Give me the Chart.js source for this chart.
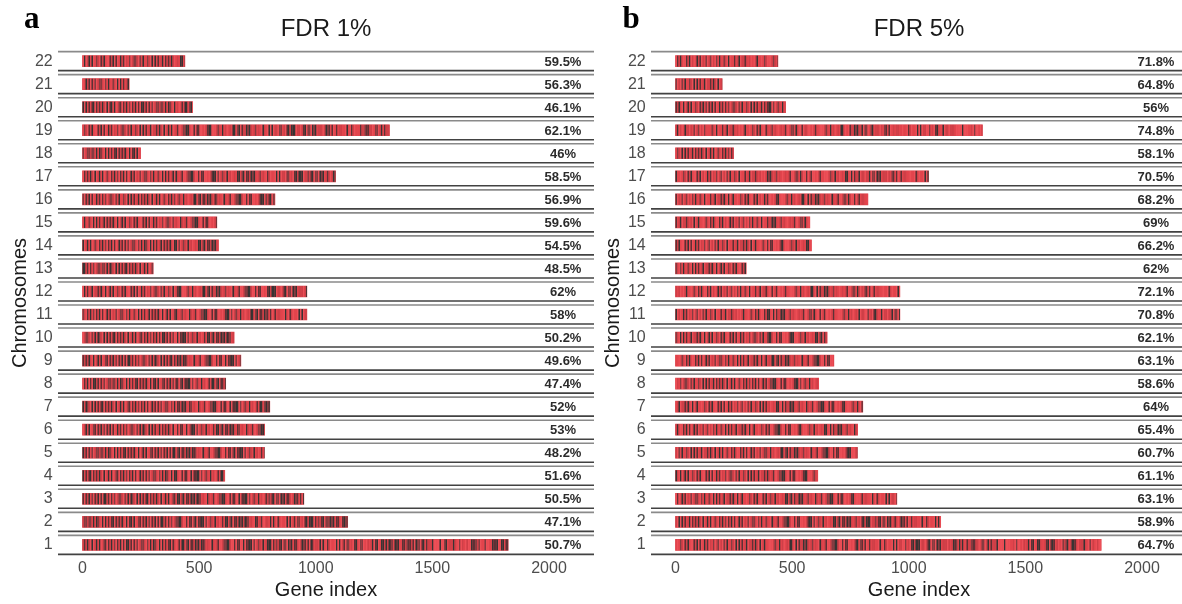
<!DOCTYPE html>
<html>
<head>
<meta charset="utf-8">
<script src="https://cdn.jsdelivr.net/npm/chart.js@4.4.1/dist/chart.umd.min.js"></script>
<style>
  html, body { margin: 0; padding: 0; background: #ffffff; overflow: hidden; }
  #wrap { position: relative; width: 1182px; height: 604px; overflow: hidden; }
  canvas { position: absolute; top: 0; }
  #panelA { left: 0; }
  #panelB { left: 593px; }
</style>
</head>
<body>
<div id="wrap">
  <canvas id="panelA" width="600" height="604"></canvas>
  <canvas id="panelB" width="600" height="604"></canvas>
</div>
<script>
// Chromosomes 1..22, genes tested per chromosome
const CHROMOSOMES = ['1','2','3','4','5','6','7','8','9','10','11','12','13','14','15','16','17','18','19','20','21','22'];
const GENE_COUNTS = [1825, 1137, 949, 610, 780, 781, 803, 614, 679, 650, 962, 962, 303, 583, 576, 825, 1085, 249, 1316, 472, 200, 439];

// Share of genes (in %) per chromosome at each FDR threshold
const PCT_FDR1 = [50.7, 47.1, 50.5, 51.6, 48.2, 53, 52, 47.4, 49.6, 50.2, 58, 62, 48.5, 54.5, 59.6, 56.9, 58.5, 46, 62.1, 46.1, 56.3, 59.5];
const PCT_FDR5 = [64.7, 58.9, 63.1, 61.1, 60.7, 65.4, 64, 58.6, 63.1, 62.1, 70.8, 72.1, 62, 66.2, 69, 68.2, 70.5, 58.1, 74.8, 56, 64.8, 71.8];

const X_TICKS = [0, 500, 1000, 1500, 2000];

const PANELS = [
  { canvas: 'panelA', letter: 'a', letterX: 24, title: 'FDR 1%', pct: PCT_FDR1 },
  { canvas: 'panelB', letter: 'b', letterX: 29.5, title: 'FDR 5%', pct: PCT_FDR5 }
];

// Barcode texture: a fixed ordering of 61 levels used to lay out red / dark stripes
const TEX = [17, 43, 5, 29, 52, 11, 38, 0, 24, 57, 33, 8, 46, 20, 60, 14, 36, 3, 49, 27, 55, 9, 41, 22, 31, 58, 1, 45, 16, 35, 6, 53, 25, 12, 48, 39, 2, 30, 59, 19, 44, 7, 34, 51, 15, 26, 56, 4, 40, 21, 47, 10, 32, 54, 18, 37, 13, 50, 28, 42, 23];
const MULTS = [1, 5, 3, 7, 2, 6, 4, 9];
const RED_SHADES = ['#e2454d', '#cf4048', '#ec4f57'];
const DARK_SHADES = ['#383434', '#5e3236', '#843d42'];
const STRIPE_W = 1.5;

const SANS = '"Liberation Sans", Arial, sans-serif';
const SERIF = '"Liberation Serif", "DejaVu Serif", serif';

function drawBarcode(ctx, el, pct, row, panelIdx) {
  const p = el.getProps(['x', 'y', 'base', 'height'], true);
  const left = Math.min(p.base, p.x), right = Math.max(p.base, p.x);
  const top = p.y - p.height / 2;
  const n = Math.ceil((right - left) / STRIPE_W);
  const cut = pct / 100 * TEX.length;
  for (let c = 0; c < n; c++) {
    const k = Math.floor(c / TEX.length), j = c % TEX.length;
    const idx = (j * MULTS[k % MULTS.length] + row * 23 + panelIdx * 11) % TEX.length;
    const t = TEX[idx];
    const shade = TEX[(idx + 29) % TEX.length] % 3;
    ctx.fillStyle = t < cut ? RED_SHADES[shade] : DARK_SHADES[shade];
    const x0 = left + c * STRIPE_W;
    ctx.fillRect(x0, top, Math.min(STRIPE_W, right - x0), p.height);
  }
}

function makeDecor(panel, panelIdx) {
  return {
    id: 'panelDecor',
    beforeDatasetsDraw(chart) {
      const { ctx, chartArea, scales } = chart;
      const ys = scales.y;
      ctx.save();
      ctx.lineWidth = 1.6;
      chart.data.labels.forEach((_, i) => {
        const yc = ys.getPixelForValue(i);
        ctx.strokeStyle = '#8a8a8a';
        ctx.beginPath();
        ctx.moveTo(chartArea.left, yc - 9.5);
        ctx.lineTo(chartArea.right, yc - 9.5);
        ctx.stroke();
        ctx.strokeStyle = '#424242';
        ctx.beginPath();
        ctx.moveTo(chartArea.left, yc + 9.5);
        ctx.lineTo(chartArea.right, yc + 9.5);
        ctx.stroke();
      });
      ctx.restore();
    },
    afterDatasetsDraw(chart) {
      const { ctx, chartArea, scales } = chart;
      const meta = chart.getDatasetMeta(0);
      const pctRows = chart.data.datasets[0].pctLabels;
      // stripes drawn off-screen, then softened onto the bars
      const off = document.createElement('canvas');
      off.width = chart.width; off.height = chart.height;
      const octx = off.getContext('2d');
      meta.data.forEach((el, i) => drawBarcode(octx, el, pctRows[i], i, panelIdx));
      ctx.save();
      ctx.filter = 'blur(0.75px)';
      ctx.drawImage(off, 0, 0);
      ctx.restore();

      // percentage labels on the right of each row
      ctx.save();
      ctx.font = 'bold 13px ' + SANS;
      ctx.fillStyle = '#2b2b2b';
      ctx.textAlign = 'center';
      ctx.textBaseline = 'middle';
      pctRows.forEach((v, i) => {
        const yc = scales.y.getPixelForValue(i);
        ctx.fillText(v + '%', chartArea.right - 31, yc + 1);
      });
      ctx.restore();
    },
    afterDraw(chart) {
      const { ctx, chartArea } = chart;
      const cx = (chartArea.left + chartArea.right) / 2;
      ctx.save();
      ctx.fillStyle = '#1a1a1a';
      ctx.textAlign = 'center';
      ctx.textBaseline = 'middle';
      ctx.font = '24px ' + SANS;
      ctx.fillText(panel.title, cx, 29);
      ctx.font = '20px ' + SANS;
      ctx.fillText('Gene index', cx, 590);
      ctx.save();
      ctx.translate(20, (chartArea.top + chartArea.bottom) / 2);
      ctx.rotate(-Math.PI / 2);
      ctx.fillText('Chromosomes', 0, 0);
      ctx.restore();
      ctx.fillStyle = '#000000';
      ctx.textAlign = 'left';
      ctx.textBaseline = 'alphabetic';
      ctx.font = 'bold 31px ' + SERIF;
      ctx.fillText(panel.letter, panel.letterX, 28);
      ctx.restore();
    }
  };
}

PANELS.forEach((panel, panelIdx) => {
  // top row is chromosome 22
  const labels = CHROMOSOMES.slice().reverse();
  const counts = GENE_COUNTS.slice().reverse();
  const pcts = panel.pct.slice().reverse();

  new Chart(document.getElementById(panel.canvas), {
    type: 'bar',
    data: {
      labels: labels,
      datasets: [{
        data: counts,
        pctLabels: pcts,
        backgroundColor: '#dc464e',
        borderWidth: 0,
        barThickness: 11
      }]
    },
    options: {
      indexAxis: 'y',
      responsive: false,
      devicePixelRatio: 1,
      animation: false,
      layout: { padding: { left: 0, right: 6, top: 49.6, bottom: 0 } },
      plugins: { legend: { display: false }, tooltip: { enabled: false }, title: { display: false } },
      scales: {
        x: {
          type: 'linear',
          min: -105,
          max: 2193,
          grid: { display: false, drawTicks: false },
          border: { display: false },
          afterBuildTicks(sc) { sc.ticks = X_TICKS.map(v => ({ value: v })); },
          afterFit(sc) { sc.height = 47.6; },
          ticks: {
            color: '#4d4d4d',
            font: { family: SANS, size: 16 },
            padding: 3,
            maxRotation: 0,
            callback: v => String(v)
          }
        },
        y: {
          type: 'category',
          grid: { display: false, drawTicks: false },
          border: { display: false },
          afterFit(sc) { sc.width = 58; },
          ticks: {
            color: '#4d4d4d',
            font: { family: SANS, size: 16 },
            padding: 5.3,
            autoSkip: false
          }
        }
      }
    },
    plugins: [makeDecor(panel, panelIdx)]
  });
});
</script>
</body>
</html>
